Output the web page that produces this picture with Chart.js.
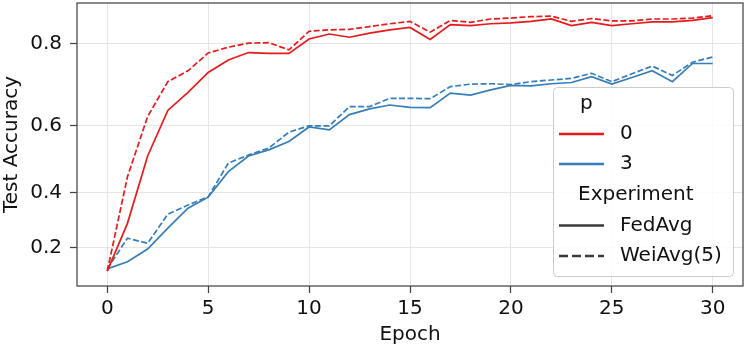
<!DOCTYPE html>
<html>
<head>
<meta charset="utf-8">
<script src="https://cdn.jsdelivr.net/npm/chart.js@4"></script>
<style>
  html, body { margin: 0; padding: 0; background: #fff; }
  #chart { display: block; }
</style>
</head>
<body>
<canvas id="chart" width="747" height="351"></canvas>
<script>
// values (Test Accuracy per epoch)
const epochs = [0, 1, 2, 3, 4, 5, 6, 7, 8, 9, 10, 11, 12, 13, 14, 15, 16, 17, 18, 19, 20, 21, 22, 23, 24, 25, 26, 27, 28, 29, 30];
const fedAvgP0 = [0.100, 0.293, 0.514, 0.640, 0.686, 0.734, 0.763, 0.780, 0.778, 0.778, 0.810, 0.821, 0.814, 0.823, 0.830, 0.835, 0.809, 0.841, 0.839, 0.843, 0.845, 0.848, 0.853, 0.839, 0.846, 0.839, 0.843, 0.847, 0.847, 0.850, 0.856];
const weiAvgP0 = [0.100, 0.451, 0.624, 0.712, 0.738, 0.779, 0.792, 0.801, 0.802, 0.786, 0.827, 0.830, 0.831, 0.837, 0.843, 0.848, 0.825, 0.850, 0.846, 0.853, 0.855, 0.858, 0.859, 0.848, 0.854, 0.849, 0.849, 0.853, 0.853, 0.855, 0.860];
const fedAvgP3 = [0.110, 0.141, 0.194, 0.275, 0.347, 0.385, 0.467, 0.514, 0.532, 0.556, 0.596, 0.588, 0.629, 0.644, 0.654, 0.648, 0.647, 0.684, 0.679, 0.692, 0.703, 0.702, 0.707, 0.710, 0.724, 0.706, 0.722, 0.738, 0.712, 0.755, 0.755];
const weiAvgP3 = [0.110, 0.237, 0.217, 0.326, 0.358, 0.386, 0.493, 0.517, 0.537, 0.582, 0.599, 0.599, 0.650, 0.650, 0.671, 0.671, 0.670, 0.700, 0.706, 0.707, 0.705, 0.712, 0.716, 0.720, 0.732, 0.712, 0.731, 0.749, 0.727, 0.758, 0.770];

const xTicks = [0, 5, 10, 15, 20, 25, 30];
const yTicks = [0.2, 0.4, 0.6, 0.8];

const hueTitle = "p";
const hueLabels = ["0", "3"];
const styleTitle = "Experiment";
const styleLabels = ["FedAvg", "WeiAvg(5)"];

const RED = "#e41a1c";
const BLUE = "#377eb8";
const FONT = "'DejaVu Sans', 'Liberation Sans', sans-serif";
const DASH = [6, 2.5];

// y axis in the picture is spaced like exp(y), so a small custom scale
class ExpScale extends Chart.LinearScale {
    getPixelForValue(value) {
        const a = Math.exp(this.min), b = Math.exp(this.max);
        return this.getPixelForDecimal((Math.exp(value) - a) / (b - a));
    }
    getValueForPixel(pixel) {
        const a = Math.exp(this.min), b = Math.exp(this.max);
        return Math.log(a + this.getDecimalForPixel(pixel) * (b - a));
    }
}
ExpScale.id = "exp";
ExpScale.defaults = Chart.LinearScale.defaults;
Chart.register(ExpScale);

const toPoints = arr => epochs.map((e, i) => ({ x: e, y: arr[i] }));

const frameAndLegend = {
    id: "frameAndLegend",
    afterDatasetsDraw(chart) {
        const ctx = chart.ctx;
        const a = chart.chartArea;
        ctx.save();
        ctx.strokeStyle = "#444";
        ctx.lineWidth = 1.25;
        ctx.strokeRect(a.left, a.top, a.right - a.left, a.bottom - a.top);
        ctx.restore();
    },
    afterDraw(chart) {
        const ctx = chart.ctx;
        ctx.save();
        // box
        ctx.beginPath();
        ctx.roundRect(553.5, 87.5, 180, 189, 4);
        ctx.fillStyle = "rgba(255,255,255,0.85)";
        ctx.fill();
        ctx.strokeStyle = "#cccccc";
        ctx.lineWidth = 1;
        ctx.stroke();

        ctx.font = "20px " + FONT;
        ctx.fillStyle = "#111";
        ctx.textBaseline = "middle";
        ctx.textAlign = "left";

        const rowY = [104, 134, 164, 195, 225.5, 256];
        const hx1 = 559, hx2 = 604, tx = 620;

        ctx.fillText(hueTitle, 580, rowY[0]);
        [RED, BLUE].forEach((c, i) => {
            ctx.beginPath();
            ctx.strokeStyle = c;
            ctx.lineWidth = 2.6;
            ctx.setLineDash([]);
            ctx.moveTo(hx1, rowY[1 + i]);
            ctx.lineTo(hx2, rowY[1 + i]);
            ctx.stroke();
            ctx.fillText(hueLabels[i], tx, rowY[1 + i]);
        });

        ctx.fillText(styleTitle, 578, rowY[3]);
        [[], [9, 4]].forEach((d, i) => {
            ctx.beginPath();
            ctx.strokeStyle = "#3a3a3a";
            ctx.lineWidth = 2.6;
            ctx.setLineDash(d);
            ctx.moveTo(hx1, rowY[4 + i]);
            ctx.lineTo(hx2, rowY[4 + i]);
            ctx.stroke();
            ctx.setLineDash([]);
            ctx.fillText(styleLabels[i], tx, rowY[4 + i]);
        });
        ctx.restore();
    }
};

new Chart(document.getElementById("chart").getContext("2d"), {
    type: "line",
    data: {
        datasets: [
            { label: "0 FedAvg", data: toPoints(fedAvgP0), borderColor: RED },
            { label: "0 WeiAvg(5)", data: toPoints(weiAvgP0), borderColor: RED, borderDash: DASH },
            { label: "3 FedAvg", data: toPoints(fedAvgP3), borderColor: BLUE },
            { label: "3 WeiAvg(5)", data: toPoints(weiAvgP3), borderColor: BLUE, borderDash: DASH }
        ]
    },
    options: {
        responsive: false,
        animation: false,
        devicePixelRatio: 1,
        layout: { padding: { left: 0, right: 4, top: 3, bottom: 0 } },
        elements: {
            point: { radius: 0 },
            line: { borderWidth: 1.7, tension: 0, fill: false }
        },
        plugins: {
            legend: { display: false },
            tooltip: { enabled: false }
        },
        scales: {
            x: {
                type: "linear",
                min: -1.5,
                max: 31.5,
                afterBuildTicks: s => { s.ticks = xTicks.map(v => ({ value: v })); },
                afterFit: s => { s.height = 65; s.paddingLeft = 0; s.paddingRight = 0; },
                ticks: {
                    color: "#111",
                    font: { family: FONT, size: 20 },
                    padding: 4,
                    maxRotation: 0,
                    callback: v => String(v)
                },
                grid: { color: "#e5e5e5", lineWidth: 1, tickColor: "#444", tickLength: 7, tickWidth: 1.25 },
                border: { display: false },
                title: { display: true, text: "Epoch", color: "#111", font: { family: FONT, size: 20 }, padding: { top: 0, bottom: 4 } }
            },
            y: {
                type: "exp",
                min: 0.0315,
                max: 0.886,
                afterBuildTicks: s => { s.ticks = yTicks.map(v => ({ value: v })); },
                afterFit: s => { s.width = 77; s.paddingTop = 0; s.paddingBottom = 0; },
                ticks: {
                    color: "#111",
                    font: { family: FONT, size: 20 },
                    padding: 8,
                    callback: v => v.toFixed(1)
                },
                grid: { color: "#e5e5e5", lineWidth: 1, tickColor: "#444", tickLength: 7, tickWidth: 1.25 },
                border: { display: false },
                title: { display: true, text: "Test Accuracy", color: "#111", font: { family: FONT, size: 20 }, padding: { top: 0, bottom: 0 } }
            }
        }
    },
    plugins: [frameAndLegend]
});
</script>
</body>
</html>
